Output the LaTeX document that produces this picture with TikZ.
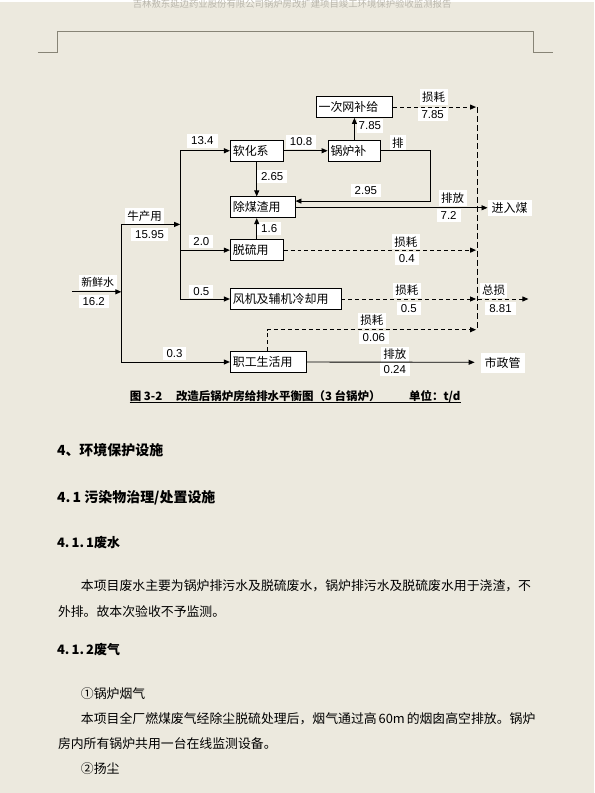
\documentclass[tikz,border=0pt]{standalone}
\usepackage{fontspec}
\setmainfont{Liberation Sans}
\newfontfamily\cjk{Noto Sans CJK SC}
\usetikzlibrary{arrows.meta}
\definecolor{pagebg}{RGB}{236,233,222}
\definecolor{hdrline}{RGB}{135,132,118}
\definecolor{hdrtext}{RGB}{185,182,172}
\begin{document}
\begin{tikzpicture}[x=1pt,y=-1pt,
  box/.style={draw=black, fill=white, line width=0.8pt, inner xsep=2.5pt, inner ysep=0pt, minimum height=21pt, align=left, font=\cjk\fontsize{12}{14}\selectfont},
  lab/.style={fill=white, inner xsep=4pt, inner ysep=2.5pt, font=\fontsize{11.5}{13}\selectfont},
  clab/.style={fill=white, inner xsep=2.5pt, inner ysep=2.5pt, font=\cjk\fontsize{11.5}{13}\selectfont},
  conn/.style={line width=0.9pt, -{Triangle[length=6pt,width=5pt]}},
  dconn/.style={conn, dash pattern=on 4pt off 3pt},
  ln/.style={line width=0.9pt},
  vdash/.style={line width=0.9pt, dash pattern=on 6pt off 3pt},
  head/.style={anchor=west, inner sep=0pt, font=\cjk\bfseries\fontsize{14}{16}\selectfont},
  subhead/.style={anchor=west, inner sep=0pt, font=\cjk\bfseries\fontsize{13}{15}\selectfont},
  body/.style={anchor=west, inner sep=0pt, font=\cjk\fontsize{12.9}{15}\selectfont},
]
% page
\fill[pagebg] (0,0) rectangle (596,793);
\node[text=hdrtext, font=\cjk\fontsize{9.4}{11}\selectfont, inner sep=0pt] (hdr) at (293,2) {吉林敖东延边药业股份有限公司锅炉房改扩建项目竣工环境保护验收监测报告};
\draw[hdrline, line width=0.8pt] (38,50.5) -- (57.5,50.5) -- (57.5,29.5) -- (535.5,29.5) -- (535.5,50.5) -- (555,50.5);

% boxes
\node[box, text width=48pt] (rh) at (257.5,148.8) {软化系};
\node[box, text width=48pt] (gl) at (355.5,148.8) {锅炉补};
\node[box, text width=72pt] (yc) at (355.5,105) {一次网补给};
\node[box, text width=60pt] (cm) at (263.5,205.5) {除煤渣用};
\node[box, text width=48pt] (tl) at (257.5,248.5) {脱硫用};
\node[box, text width=106pt] (fj) at (286.5,297.5) {风机及辅机冷却用};
\node[box, text width=71pt] (zg) at (269,360.7) {职工生活用};

% end nodes
\node[clab, anchor=west, inner xsep=4pt, font=\cjk\fontsize{12}{14}\selectfont] (jr) at (489,206) {进入煤};
\node[clab, anchor=west, inner xsep=4pt, minimum height=20pt, font=\cjk\fontsize{12}{14}\selectfont] (sz) at (482,361.5) {市政管};

% labels
\node[clab] (lsc) at (145,214) {牛产用};
\node[lab] (l1595) at (150,233) {15.95};
\node[clab, font=\cjk\fontsize{11}{13}\selectfont] (lxx) at (98,281) {新鲜水};
\node[lab] (l162) at (94,300) {16.2};
\node[lab] (l134) at (203,139) {13.4};
\node[lab] (l108) at (302,140) {10.8};
\node[lab] (l265) at (273,175) {2.65};
\node[lab] (l16) at (270,227) {1.6};
\node[lab, inner xsep=2pt] (l785a) at (371,124) {7.85};
\node[clab] (lp) at (399,141) {排};
\node[lab] (l295) at (367,189) {2.95};
\node[clab] (lpf1) at (454,196) {排放};
\node[lab] (l72) at (450,214) {7.2};
\node[clab] (lsh1) at (435,95) {损耗};
\node[lab] (l785b) at (434,112) {7.85};
\node[lab] (l20) at (202,240) {2.0};
\node[lab] (l05a) at (202,290) {0.5};
\node[lab] (l03) at (175,352) {0.3};
\node[clab] (lsh2) at (407,240) {损耗};
\node[lab] (l04) at (408,257) {0.4};
\node[clab] (lsh3) at (408,289) {损耗};
\node[lab] (l05b) at (410,307) {0.5};
\node[clab] (lzs) at (495,289) {总损};
\node[lab] (l881) at (502,307) {8.81};
\node[clab] (lsh4) at (373,319) {损耗};
\node[lab] (l006) at (375,336) {0.06};
\node[clab] (lpf2) at (396,353) {排放};
\node[lab] (l024) at (396,368) {0.24};

% connector points
\coordinate (fw) at (72,290.3);
\coordinate (t1top) at (121.7,222.7);
\coordinate (t1mid) at (121.7,290.3);
\coordinate (t1bot) at (121.7,360.7);
\coordinate (t2in) at (180.7,222.7);
\coordinate (t2top) at (180.7,148.8);
\coordinate (t2a) at (180.7,248.5);
\coordinate (t2bot) at (180.7,297.5);
\coordinate (pr) at (431.7,148.8);
\coordinate (pr2) at (431.7,199.3);
\coordinate (vin) at (477.5,0);
\coordinate (vtop) at (479,105);
\coordinate (vbot) at (479,328.3);
\coordinate (zgup) at (268.3,328.3);
\coordinate (tot) at (530,297.5);
\coordinate (szin) at (476,361);

% solid connectors
\draw[conn] (fw) -- (t1mid);
\draw[ln] (t1top) -- (t1bot);
\draw[conn] (t1top) -- (t2in);
\draw[ln] (t2top) -- (t2bot);
\draw[conn] (t2top) -- (rh.west);
\draw[conn] (t2a) -- (tl.west);
\draw[conn] (t2bot) -- (fj.west);
\draw[conn] (t1bot) -- (zg.west);
\draw[conn] (rh.east) -- (gl.west);
\draw[conn] (rh.south) -- (rh.south |- cm.north);
\draw[conn] (tl.north) -- (tl.north |- cm.south);
\draw[conn] (gl.north) -- (gl.north |- yc.south);
\draw[conn] (gl.east) -- (pr) -- (pr2) -- (pr2 -| cm.east);
\draw[conn] (cm.east |- jr.west) -- (jr.west);
\draw[conn] (zg.east) -- (szin);

% dashed connectors
\draw[vdash] (vtop) -- (vbot);
\draw[dconn] (yc.east) -- (yc.east -| vin);
\draw[dconn] (tl.east) -- (tl.east -| vin);
\draw[dconn] (fj.east) -- (fj.east -| vin);
\draw[dconn] (zg.north -| zgup) -- (zgup) -- (zgup -| vin);
\draw[dconn] (fj.east -| vtop) -- (tot);

% caption
\node[inner sep=0pt, font=\cjk\bfseries\fontsize{11.5}{13}\selectfont] (cap) at (296,395) {图 3-2\hspace{1.2em}改造后锅炉房给排水平衡图（3 台锅炉）\hspace{2.5em}单位：t/d};
\draw[line width=0.8pt] ([yshift=-2pt]cap.base west) -- ([yshift=-2pt]cap.base east);

% text
\node[head] (h4) at (57,449) {4、环境保护设施};
\node[head] (h41) at (57,497) {4.\,1 污染物治理/处置设施};
\node[subhead] (h411) at (57,542) {4.\,1.\,1废水};
\node[body] (p1) at (81,585) {本项目废水主要为锅炉排污水及脱硫废水，锅炉排污水及脱硫废水用于浇渣，不};
\node[body] (p2) at (58,611) {外排。故本次验收不予监测。};
\node[subhead] (h412) at (57,649) {4.\,1.\,2废气};
\node[body] (p3) at (81,693) {①锅炉烟气};
\node[body] (p4) at (81,718) {\makebox[452pt][s]{本项目全厂燃煤废气经除尘脱硫处理后，烟气通过高 60m 的烟囱高空排放。锅炉}};
\node[body] (p5) at (58,743) {房内所有锅炉共用一台在线监测设备。};
\node[body] (p6) at (81,769) {②扬尘};
\end{tikzpicture}
\end{document}
